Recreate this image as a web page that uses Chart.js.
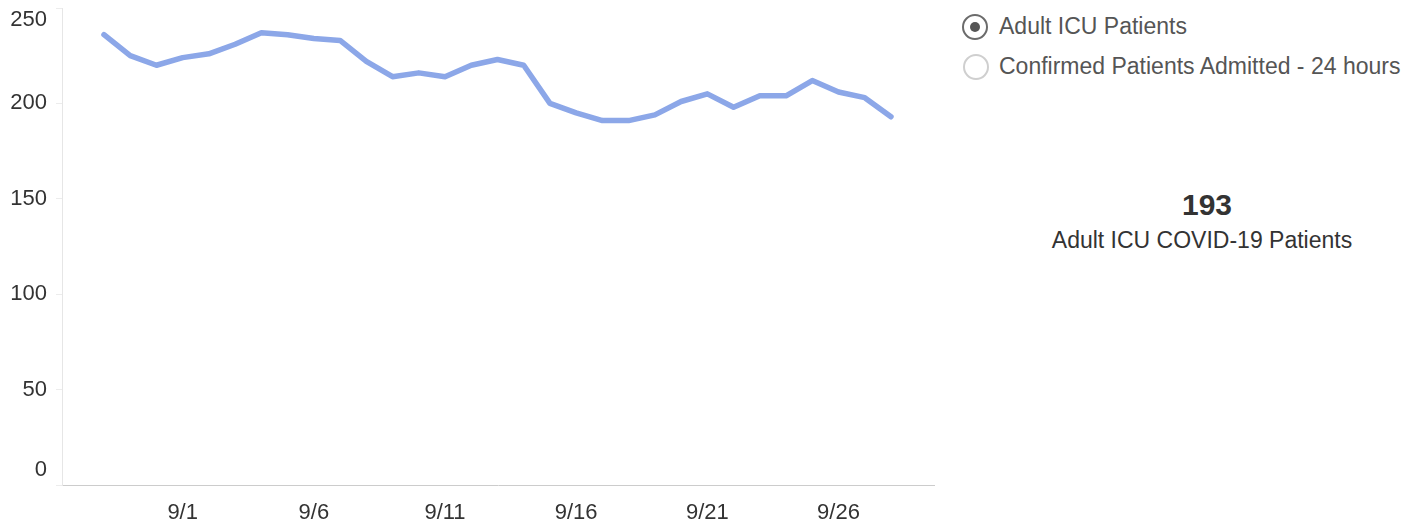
<!DOCTYPE html>
<html>
<head>
<meta charset="utf-8">
<script src="https://cdn.jsdelivr.net/npm/chart.js@4/dist/chart.umd.min.js"></script>
<style>
  html, body { margin: 0; padding: 0; background: #fff; width: 1421px; height: 523px; overflow: hidden; font-family: "Liberation Sans", Arial, sans-serif; }
  #wrap { position: absolute; left: 0; top: 0; width: 950px; height: 523px; }
  .radio { position: absolute; width: 22px; height: 22px; border-radius: 50%; box-sizing: content-box; }
  .radio.on { border: 2px solid #6b6b6b; left: 962px; top: 14px; }
  .radio.on::after { content: ""; position: absolute; left: 6px; top: 6px; width: 10px; height: 10px; border-radius: 50%; background: #555; }
  .radio.off { border: 2px solid #cfcfcf; left: 963px; top: 54px; }
  .lbl { position: absolute; left: 999px; font-size: 23px; line-height: 27px; color: #555; white-space: nowrap; }
  #kpi { position: absolute; left: 1107px; width: 200px; text-align: center; top: 188px; font-size: 30px; line-height: 34px; font-weight: bold; color: #333; }
  #kpiSub { position: absolute; left: 1002px; width: 400px; text-align: center; top: 227px; font-size: 23px; line-height: 27px; color: #333; }
</style>
</head>
<body>
<div id="wrap"><canvas id="c"></canvas></div>
<div class="radio on"></div>
<div class="lbl" id="l1" style="top:13px"></div>
<div class="radio off"></div>
<div class="lbl" id="l2" style="top:53px"></div>
<div id="kpi"></div>
<div id="kpiSub"></div>
<script>
// ---- data ----
const dates = ['8/29','8/30','8/31','9/1','9/2','9/3','9/4','9/5','9/6','9/7','9/8','9/9','9/10','9/11','9/12','9/13','9/14','9/15','9/16','9/17','9/18','9/19','9/20','9/21','9/22','9/23','9/24','9/25','9/26','9/27','9/28'];
const adultIcuPatients = [236,225,220,224,226,231,237,236,234,233,222,214,216,214,220,223,220,200,195,191,191,194,201,205,198,204,204,212,206,203,193];
const xTickLabels = ['9/1','9/6','9/11','9/16','9/21','9/26'];
const yTickValues = [0,50,100,150,200,250];
const selectorLabels = ['Adult ICU Patients','Confirmed Patients Admitted - 24 hours'];
const kpiLabel = 'Adult ICU COVID-19 Patients';

document.getElementById('l1').textContent = selectorLabels[0];
document.getElementById('l2').textContent = selectorLabels[1];
document.getElementById('kpi').textContent = String(adultIcuPatients[adultIcuPatients.length - 1]);
document.getElementById('kpiSub').textContent = kpiLabel;

const points = adultIcuPatients.map((v, i) => ({ x: i, y: v }));
const xTickIdx = xTickLabels.map(l => dates.indexOf(l));
const FONT = "'Liberation Sans', Arial, sans-serif";

new Chart(document.getElementById('c'), {
  type: 'line',
  data: {
    datasets: [{
      label: selectorLabels[0],
      data: points,
      borderColor: '#8ca7e8',
      borderWidth: 5.5,
      pointRadius: 0,
      tension: 0,
      borderCapStyle: 'round',
      borderJoinStyle: 'round',
      fill: false
    }]
  },
  options: {
    responsive: true,
    maintainAspectRatio: false,
    animation: false,
    layout: { padding: { top: 8, right: 16, left: 0, bottom: 0 } },
    plugins: { legend: { display: false }, tooltip: { enabled: false } },
    scales: {
      x: {
        type: 'linear',
        min: -1.6,
        max: 31.64,
        afterBuildTicks: s => { s.ticks = xTickIdx.map(v => ({ value: v })); },
        afterFit: s => { s.height = 38; s.paddingLeft = 0; s.paddingRight = 0; },
        grid: { display: false, drawTicks: false },
        border: { display: true, color: '#cccccc', width: 1, dash: [2, 2] },
        ticks: {
          autoSkip: false,
          maxRotation: 0,
          padding: 15,
          color: '#333',
          font: { family: FONT, size: 22 },
          callback: v => dates[v]
        }
      },
      y: {
        min: 0,
        max: 250,
        afterBuildTicks: s => { s.ticks = yTickValues.map(v => ({ value: v })); },
        afterFit: s => { s.width = 62; s.paddingTop = 0; s.paddingBottom = 0; },
        grid: { display: true, drawOnChartArea: false, drawTicks: true, tickLength: 6, color: '#ececec' },
        border: { display: true, color: '#e6e6e6', width: 1 },
        ticks: {
          padding: 9,
          color: '#333',
          callback: v => v === 250 ? ['', String(v)] : (v === 0 ? [String(v), ''] : String(v)),
          font: ctx => {
            const v = ctx.tick ? ctx.tick.value : null;
            if (v === 250) return { family: FONT, size: 22, lineHeight: '24px' };
            if (v === 0) return { family: FONT, size: 22, lineHeight: '30px' };
            return { family: FONT, size: 22 };
          }
        }
      }
    }
  }
});
</script>
</body>
</html>
